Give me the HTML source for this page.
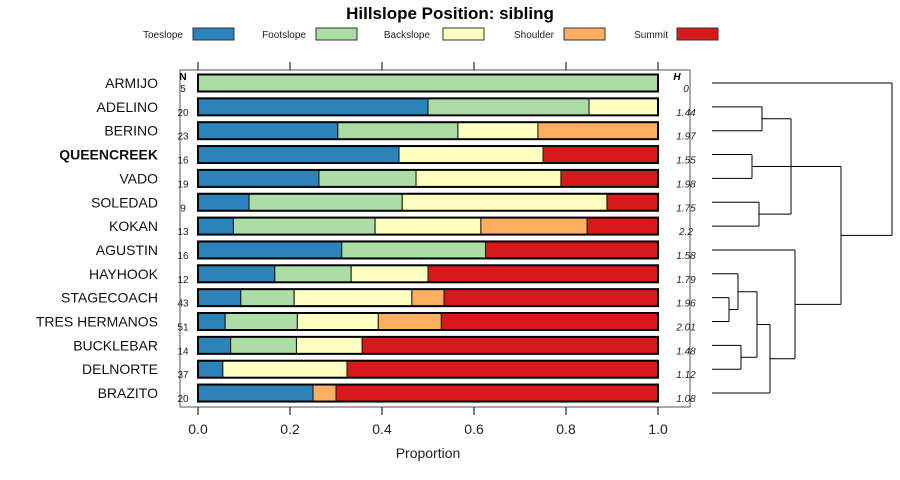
<!DOCTYPE html>
<html><head><meta charset="utf-8">
<style>
body{margin:0;background:#fff;}
svg{display:block;font-family:"Liberation Sans",sans-serif;}
</style></head>
<body>
<svg id="chart" width="900" height="480" viewBox="0 0 900 480">
<text x="450" y="19" text-anchor="middle" font-size="17" font-weight="bold">Hillslope Position: sibling</text>
<g id="legend"></g>
<rect x="180" y="70" width="510" height="337" fill="none" stroke="#555" stroke-width="1"/>
<g id="bars"></g>
<g id="axes"></g>
<g id="dendro" stroke="#000" stroke-width="1" fill="none"></g>
<text x="428" y="458" text-anchor="middle" font-size="14" fill="#222">Proportion</text>
</svg>
<script>
const categories=["ARMIJO","ADELINO","BERINO","QUEENCREEK","VADO","SOLEDAD","KOKAN","AGUSTIN","HAYHOOK","STAGECOACH","TRES HERMANOS","BUCKLEBAR","DELNORTE","BRAZITO"];
const seriesNames=["Toeslope","Footslope","Backslope","Shoulder","Summit"];
const colors=["#2b83ba","#abdda4","#ffffbf","#fdae61","#d7191c"];
const toeslope=[0,0.5,0.304,0.437,0.263,0.111,0.077,0.3125,0.167,0.093,0.059,0.071,0.054,0.25];
const footslope=[1,0.35,0.261,0,0.211,0.333,0.308,0.3125,0.166,0.116,0.157,0.143,0,0];
const backslope=[0,0.15,0.174,0.313,0.315,0.445,0.23,0,0.167,0.256,0.176,0.143,0.27,0];
const shoulder=[0,0,0.261,0,0,0,0.231,0,0,0.07,0.137,0,0,0.05];
const summit=[0,0,0,0.25,0.211,0.111,0.154,0.375,0.5,0.465,0.471,0.643,0.676,0.7];
const nValues=["5","20","23","16","19","9","13","16","12","43","51","14","37","20"];
const hValues=["0","1.44","1.97","1.55","1.98","1.75","2.2","1.58","1.79","1.96","2.01","1.48","1.12","1.08"];
const ticks=[0,0.2,0.4,0.6,0.8,1.0];
const tickLabels=["0.0","0.2","0.4","0.6","0.8","1.0"];
const NS="http://www.w3.org/2000/svg";
const xS=v=>198+v*460;
const yS=i=>83+i*23.85;
function mk(tag,attrs,parent){const e=document.createElementNS(NS,tag);for(const k in attrs)e.setAttribute(k,attrs[k]);parent.appendChild(e);return e;}
const series=[toeslope,footslope,backslope,shoulder,summit];
const bars=document.getElementById('bars');
categories.forEach((c,i)=>{
  const y=yS(i);
  const lab=mk('text',{x:158,y:y+5,'text-anchor':'end','font-size':14,'font-weight':c==="QUEENCREEK"?'bold':'normal',fill:'#111'},bars);
  lab.textContent=c;
  
  
  let cum=0;
  series.forEach((s,k)=>{
    const v=s[i];
    if(v>0){
      const r=mk('rect',{x:xS(cum),y:y-8.5,width:v*460,height:17,fill:colors[k],stroke:'#111','stroke-width':1},bars);
      
      
    }
    cum+=v;
  });
  const ol=mk('rect',{x:xS(0),y:y-8.5,width:460,height:17,fill:'none',stroke:'#000','stroke-width':2},bars);
  
  
  const n=mk('text',{x:183,y:y+9,'text-anchor':'middle','font-size':10,fill:'#222'},bars);
  n.textContent=nValues[i];
  
  
  const h=mk('text',{x:686,y:y+9,'text-anchor':'middle','font-size':10,'font-style':'italic',fill:'#222'},bars);
  h.textContent=hValues[i];
  
  
});
const nh=mk('text',{x:183,y:80,'text-anchor':'middle','font-size':10,'font-weight':'bold'},bars);nh.textContent="N";


const hh=mk('text',{x:677,y:80,'text-anchor':'middle','font-size':10,'font-weight':'bold','font-style':'italic'},bars);hh.textContent="H";


const axes=document.getElementById('axes');
ticks.forEach((t,j)=>{
  mk('line',{x1:xS(t),x2:xS(t),y1:62,y2:70,stroke:'#000'},axes);
  mk('line',{x1:xS(t),x2:xS(t),y1:407,y2:415,stroke:'#000'},axes);
  const tl=mk('text',{x:xS(t),y:434,'text-anchor':'middle','font-size':14,fill:'#222'},axes);
  tl.textContent=tickLabels[j];
  
  
});
const legend=document.getElementById('legend');
const legPos=[[183,193],[306,316],[430,443],[554,564],[668,677]];
seriesNames.forEach((s,k)=>{
  const t=mk('text',{x:legPos[k][0],y:38,'text-anchor':'end','font-size':10,fill:'#222'},legend);
  t.textContent=s;
  
  
  const r=mk('rect',{x:legPos[k][1],y:28,width:41,height:12,fill:colors[k],stroke:'#333'},legend);
  
  
});
const dendroG=document.getElementById('dendro');
function seg(x1,y1,x2,y2){mk('line',{x1,y1,x2,y2},dendroG);}
const leafX=712;
function merge(xa,ya,xb,yb,xn){seg(xa,ya,xn,ya);seg(xb,yb,xn,yb);seg(xn,ya,xn,yb);return (ya+yb)/2;}
const m1=merge(leafX,yS(1),leafX,yS(2),762);
const m2=merge(leafX,yS(3),leafX,yS(4),752);
const m3=merge(leafX,yS(5),leafX,yS(6),759);
seg(752,m2,791,m2);
const topNode=merge(762,m1,759,m3,791);
const st=merge(leafX,yS(9),leafX,yS(10),729);
const hs=merge(leafX,yS(8),729,st,738);
const bd=merge(leafX,yS(11),leafX,yS(12),741);
const n757=merge(738,hs,741,bd,757);
const n770=merge(757,n757,leafX,yS(13),770);
const n795=merge(leafX,yS(7),770,n770,795);
const n841=merge(791,topNode,795,n795,841);
merge(leafX,yS(0),841,n841,892);
</script>
</body></html>
